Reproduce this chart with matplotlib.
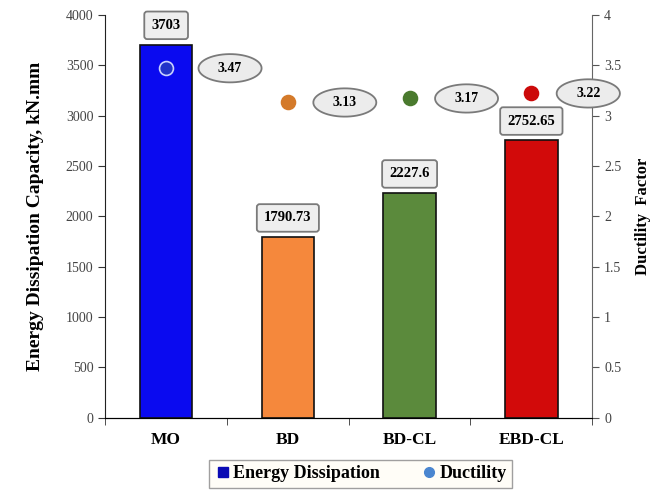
import matplotlib.pyplot as plt
from matplotlib.path import Path
import numpy as np

# ==========================
# DATA
# ==========================
categories = ["MO", "BD", "BD-CL", "EBD-CL"]
energy = [3703, 1790.73, 2227.6, 2752.65]
energy_labels = ["3703", "1790.73", "2227.6", "2752.65"]
ductility = [3.47, 3.13, 3.17, 3.22]

bar_colors = ["#0a0af0", "#f5883c", "#5b8a3c", "#d20a0a"]
dot_colors = ["#2233c8", "#d47a2a", "#4a7a2e", "#cc0a0a"]

plt.rcParams["font.family"] = "Liberation Serif"


# oval callout shape for the ductility labels
def oval(x0, y0, width, height, mutation_size):
    cx, cy = x0 + width / 2, y0 + height / 2
    rx = width / 2 + 1.4 * mutation_size
    ry = height / 2 + 0.55 * mutation_size
    t = np.linspace(0, 2 * np.pi, 60)
    verts = np.column_stack([cx + rx * np.cos(t), cy + ry * np.sin(t)])
    return Path(verts, closed=True)


# ==========================
# FIGURE
# ==========================
fig = plt.figure(figsize=(6.58, 4.95), dpi=100)
ax = fig.add_axes([0.16, 0.156, 0.74, 0.814])
ax2 = ax.twinx()

x = np.arange(len(categories))

ax.bar(x, energy, width=0.43, color=bar_colors, edgecolor="#111111",
       linewidth=1.2, zorder=2)

# value boxes on top of bars
for xi, v, lab in zip(x, energy, energy_labels):
    ax.annotate(lab, (xi, v), xytext=(0, 14), textcoords="offset points",
                ha="center", va="center", fontsize=10.5, fontweight="bold",
                bbox=dict(boxstyle="round,pad=0.5,rounding_size=0.2",
                          fc="#eeeeee", ec="#7a7a7a", lw=1.3),
                zorder=5)

# ductility markers + oval labels
for xi, d, c in zip(x, ductility, dot_colors):
    ax2.plot(xi, d, "o", ms=10, color=c, mec="#c8d0ff" if xi == 0 else c,
             mew=1.2, zorder=6)
    off = 46 if xi == 0 else 41
    ax2.annotate(f"{d:.2f}", (xi, d), xytext=(off, 0),
                 textcoords="offset points", ha="center", va="center",
                 fontsize=10, fontweight="bold",
                 bbox=dict(boxstyle=oval, fc="#ececec", ec="#7a7a7a",
                           lw=1.3),
                 zorder=6)

# ==========================
# AXES
# ==========================
ax.set_xlim(-0.5, 3.5)
ax.set_ylim(0, 4000)
ax2.set_ylim(0, 4)
ax.set_yticks(np.arange(0, 4001, 500))
ax2.set_yticks(np.arange(0, 4.01, 0.5))
ax2.set_yticklabels(["0", "0.5", "1", "1.5", "2", "2.5", "3", "3.5", "4"])

ax.set_xticks(x)
ax.set_xticklabels(categories, fontsize=12.5, fontweight="bold")
ax.set_xticks(np.arange(-0.5, 4, 1), minor=True)
ax.tick_params(axis="x", which="major", length=0, pad=10)
ax.tick_params(axis="x", which="minor", length=5, color="#333333")

ax.tick_params(axis="y", labelsize=10, labelcolor="#444444", length=5,
               color="#333333")
ax2.tick_params(axis="y", labelsize=10, labelcolor="#444444", length=5,
                color="#555555")

ax.spines["top"].set_visible(False)
ax2.spines["top"].set_visible(False)
ax2.spines["left"].set_visible(False)
ax.spines["right"].set_visible(False)
ax2.spines["right"].set_color("#666666")
ax.spines["left"].set_color("#222222")
ax.spines["bottom"].set_color("#222222")

ax.set_ylabel("Energy Dissipation Capacity, kN.mm", fontsize=14,
              fontweight="bold", labelpad=16)
ax2.set_ylabel("Ductility  Factor", fontsize=12, fontweight="bold",
               labelpad=10)

# ==========================
# LEGEND
# ==========================
h1 = plt.Line2D([], [], marker="s", ls="", ms=7, color="#0a0ab4")
h2 = plt.Line2D([], [], marker="o", ls="", ms=7, color="#4a86d0")
fig.legend([h1, h2], ["Energy Dissipation", "Ductility"], loc="center",
           bbox_to_anchor=(0.548, 0.043), ncol=2, frameon=True,
           fancybox=False, edgecolor="#888888", facecolor="#fffdf5",
           prop=dict(size=13, weight="bold"), handletextpad=0.1,
           handlelength=0.9, columnspacing=2.3, borderpad=0.3)

fig.savefig("out.png", dpi=100)
